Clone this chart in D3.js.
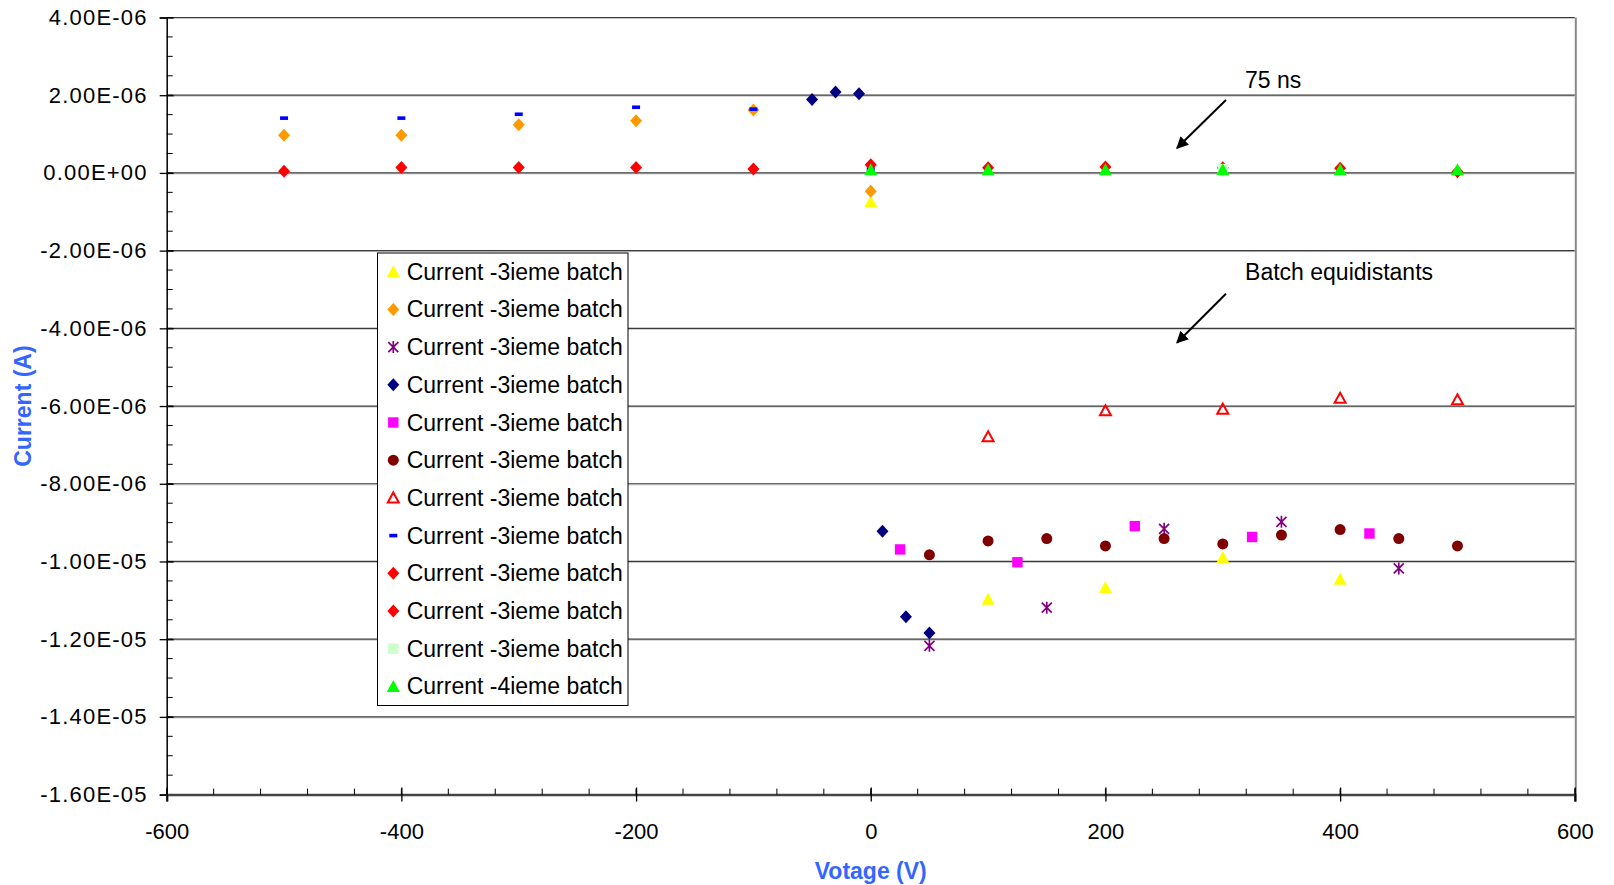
<!DOCTYPE html>
<html><head><meta charset="utf-8">
<script src="https://cdn.jsdelivr.net/npm/d3@7"></script>
<style>
html,body{margin:0;padding:0;background:#fff;}
svg{display:block;font-family:"Liberation Sans",Arial,sans-serif;}
</style></head>
<body><svg id="c" width="1614" height="885"></svg>
<script>
// ---------- data ----------
const xTicks = [-600, -400, -200, 0, 200, 400, 600];
const yTicks = [4e-6, 2e-6, 0, -2e-6, -4e-6, -6e-6, -8e-6, -1e-5, -1.2e-5, -1.4e-5, -1.6e-5];
const legendLabels = ["Current -3ieme batch","Current -3ieme batch","Current -3ieme batch","Current -3ieme batch",
  "Current -3ieme batch","Current -3ieme batch","Current -3ieme batch","Current -3ieme batch",
  "Current -3ieme batch","Current -3ieme batch","Current -3ieme batch","Current -4ieme batch"];
const s1 = [[0,-0.74e-6],[100,-10.97e-6],[200,-10.67e-6],[300,-9.90e-6],[400,-10.46e-6]];
const s2 = [[-500,0.97e-6],[-400,0.97e-6],[-300,1.24e-6],[-200,1.34e-6],[-100,1.62e-6],[0,-0.47e-6]];
const s3 = [[50,-12.17e-6],[150,-11.19e-6],[250,-9.16e-6],[350,-8.98e-6],[450,-10.18e-6]];
const s4 = [[-50,1.89e-6],[-30,2.08e-6],[-10,2.04e-6],[10,-9.22e-6],[30,-11.42e-6],[50,-11.84e-6]];
const s5 = [[25,-9.69e-6],[125,-10.02e-6],[225,-9.09e-6],[325,-9.37e-6],[425,-9.28e-6]];
const s6 = [[50,-9.83e-6],[100,-9.47e-6],[150,-9.41e-6],[200,-9.60e-6],[250,-9.41e-6],[300,-9.55e-6],[350,-9.32e-6],[400,-9.18e-6],[450,-9.41e-6],[500,-9.60e-6]];
const s7 = [[100,-6.79e-6],[200,-6.12e-6],[300,-6.08e-6],[400,-5.80e-6],[500,-5.84e-6]];
const s8 = [[-500,1.41e-6],[-400,1.41e-6],[-300,1.51e-6],[-200,1.69e-6],[-100,1.64e-6],[0,0.10e-6]];
const s9 = [[-500,0.04e-6],[-400,0.14e-6],[-300,0.14e-6],[-200,0.14e-6],[-100,0.10e-6],[0,0.21e-6]];
const s10 = [[100,0.13e-6],[200,0.15e-6],[300,0.13e-6],[400,0.12e-6],[500,0.03e-6]];
const s11 = [[300,0.10e-6]];
const s12 = [[0,0.08e-6],[100,0.08e-6],[200,0.08e-6],[300,0.08e-6],[400,0.08e-6],[500,0.08e-6]];
const annotations = [
  {text:"75 ns", tx:319, ty:2.39e-6, x1:302.7, y1:1.876e-6, x2:261, y2:0.64e-6},
  {text:"Batch equidistants", tx:319, ty:-2.54e-6, x1:302.7, y1:-3.11e-6, x2:261, y2:-4.37e-6}
];

// ---------- styles ----------
const series = [
  {data:s1, shape:"tri", fill:"#FFFF00"},
  {data:s2, shape:"diamond", fill:"#FF9900"},
  {data:s3, shape:"star", stroke:"#800080"},
  {data:s4, shape:"diamond", fill:"#000080"},
  {data:s5, shape:"square", fill:"#FF00FF"},
  {data:s6, shape:"circle", fill:"#800000"},
  {data:s7, shape:"otri", stroke:"#FF0000"},
  {data:s8, shape:"dash", fill:"#0000FF"},
  {data:s9, shape:"diamond", fill:"#FF0000"},
  {data:s10, shape:"diamond", fill:"#FF0000"},
  {data:s11, shape:"square", fill:"#CCFFCC"},
  {data:s12, shape:"tri", fill:"#00FF00"}
];

const svg = d3.select("#c");
const x = d3.scaleLinear().domain([-600,600]).range([166.7,1574.8]);
const y = d3.scaleLinear().domain([-1.6e-5,4e-6]).range([794.6,17.5]);

function fmt(v){
  if (v === 0) return "0.00E+00";
  const s = d3.format(".2e")(v).replace(/\u2212/g,"-"); // e.g. 4.00e-6
  const [m,e] = s.split("e");
  const sign = e[0]==="-" ? "-" : "+";
  const n = e.replace(/[+-]/,"");
  return m + "E" + sign + (n.length<2 ? "0"+n : n);
}

// gridlines
const grid = svg.append("g");
yTicks.forEach(v=>{
  if (v === -1.6e-5) return;
  grid.append("line").attr("x1",x(-600)).attr("x2",x(600)).attr("y1",y(v)+1).attr("y2",y(v)+1)
    .attr("stroke","#c8c8c8").attr("stroke-width",1);
  grid.append("line").attr("x1",x(-600)).attr("x2",x(600)).attr("y1",y(v)).attr("y2",y(v))
    .attr("stroke","#3a3a3a").attr("stroke-width",1.2);
});
// right border
svg.append("line").attr("x1",x(600)+1).attr("x2",x(600)+1).attr("y1",y(4e-6)).attr("y2",y(-1.6e-5)+7)
  .attr("stroke","#8a8a8a").attr("stroke-width",2);

// y axis
const yMinor = d3.range(-1.6e-5, 4.0001e-6, 5e-7);
const yAx = d3.axisLeft(y).tickValues(yTicks).tickFormat(fmt).tickSize(7).tickPadding(12);
const gy = svg.append("g").attr("transform",`translate(${x(-600)},0)`).call(yAx);
gy.select(".domain").attr("stroke","#000").attr("stroke-width",1.5);
gy.selectAll(".tick line").attr("x2",-7).attr("x1",7).attr("stroke","#000").attr("stroke-width",1.3);
gy.selectAll(".tick text").attr("font-size","22px").attr("fill","#000").style("letter-spacing","1.2px")
  .attr("font-family","'Liberation Sans',Arial,sans-serif");
svg.append("g").selectAll("line").data(yMinor).join("line")
  .attr("x1",x(-600)).attr("x2",x(-600)+6).attr("y1",d=>y(d)).attr("y2",d=>y(d))
  .attr("stroke","#000").attr("stroke-width",1);

// x axis
const xMinor = d3.range(-600, 600.1, 40);
const xAx = d3.axisBottom(x).tickValues(xTicks).tickFormat(d=>String(d)).tickSize(7).tickPadding(22);
const gx = svg.append("g").attr("transform",`translate(0,${y(-1.6e-5)})`).call(xAx);
gx.select(".domain").attr("stroke","#444").attr("stroke-width",2.5);
gx.selectAll(".tick line").attr("y1",-7).attr("y2",7).attr("stroke","#000").attr("stroke-width",1.3);
gx.selectAll(".tick text").attr("font-size","22px").attr("fill","#000")
  .attr("font-family","'Liberation Sans',Arial,sans-serif");
svg.append("g").selectAll("line").data(xMinor).join("line")
  .attr("x1",d=>x(d)).attr("x2",d=>x(d)).attr("y1",y(-1.6e-5)).attr("y2",y(-1.6e-5)-6)
  .attr("stroke","#000").attr("stroke-width",1);

// axis titles
svg.append("text").attr("x",x(0)).attr("y",871).attr("text-anchor","middle").attr("dominant-baseline","central")
  .attr("font-size","23px").attr("font-weight","bold").attr("fill","#3366FF").text("Votage (V)");
svg.append("text").attr("transform",`translate(22.6,${(y(4e-6)+y(-1.6e-5))/2}) rotate(-90)`)
  .attr("text-anchor","middle").attr("dominant-baseline","central")
  .attr("font-size","23px").attr("font-weight","bold").attr("fill","#3366FF").text("Current (A)");

// markers
function drawMarker(g, s, cx, cy){
  switch(s.shape){
    case "tri":
      g.append("path").attr("d",`M${cx},${cy-6.5}L${cx+6.5},${cy+5.5}L${cx-6.5},${cy+5.5}Z`).attr("fill",s.fill); break;
    case "otri":
      g.append("path").attr("d",`M${cx},${cy-5.5}L${cx+5.5},${cy+4.5}L${cx-5.5},${cy+4.5}Z`)
        .attr("fill","none").attr("stroke",s.stroke).attr("stroke-width",2); break;
    case "diamond":
      g.append("path").attr("d",`M${cx},${cy-6.5}L${cx+6},${cy}L${cx},${cy+6.5}L${cx-6},${cy}Z`).attr("fill",s.fill); break;
    case "square":
      g.append("rect").attr("x",cx-5.2).attr("y",cy-5.2).attr("width",10.4).attr("height",10.4).attr("fill",s.fill); break;
    case "circle":
      g.append("circle").attr("cx",cx).attr("cy",cy).attr("r",5.5).attr("fill",s.fill); break;
    case "dash":
      g.append("rect").attr("x",cx-4).attr("y",cy-1.8).attr("width",8).attr("height",3.6).attr("fill",s.fill); break;
    case "star":
      g.append("path").attr("d",`M${cx},${cy-6}L${cx},${cy+6}M${cx-5},${cy-5}L${cx+5},${cy+5}M${cx+5},${cy-5}L${cx-5},${cy+5}`)
        .attr("stroke",s.stroke).attr("stroke-width",1.7).attr("fill","none"); break;
  }
}
const pts = svg.append("g");
series.forEach(s=>{
  const g = pts.append("g");
  s.data.forEach(d=>drawMarker(g, s, x(d[0]), y(d[1])));
});

// annotations
svg.append("defs").append("marker").attr("id","ah").attr("viewBox","0 0 10 10").attr("refX",9).attr("refY",5)
  .attr("markerWidth",6).attr("markerHeight",6).attr("markerUnits","strokeWidth").attr("orient","auto")
  .append("path").attr("d","M0,0L10,5L0,10Z").attr("fill","#000");
annotations.forEach(a=>{
  svg.append("line").attr("x1",x(a.x1)).attr("y1",y(a.y1)).attr("x2",x(a.x2)).attr("y2",y(a.y2))
    .attr("stroke","#000").attr("stroke-width",2).attr("marker-end","url(#ah)");
  svg.append("text").attr("x",x(a.tx)).attr("y",y(a.ty)).attr("dominant-baseline","central")
    .attr("font-size","23px").attr("fill","#000").text(a.text);
});

// legend
const lg = svg.append("g");
lg.append("rect").attr("x",377.5).attr("y",253).attr("width",250.5).attr("height",452.5)
  .attr("fill","#fff").attr("stroke","#000").attr("stroke-width",1);
series.forEach((s,i)=>{
  const cy = 271.7 + i*37.7;
  const g = lg.append("g");
  drawMarker(g, s, 393.3, cy);
  g.append("text").attr("x",406.7).attr("y",cy).attr("dominant-baseline","central")
    .attr("font-size","23px").attr("fill","#000").text(legendLabels[i]);
});
</script></body></html>
